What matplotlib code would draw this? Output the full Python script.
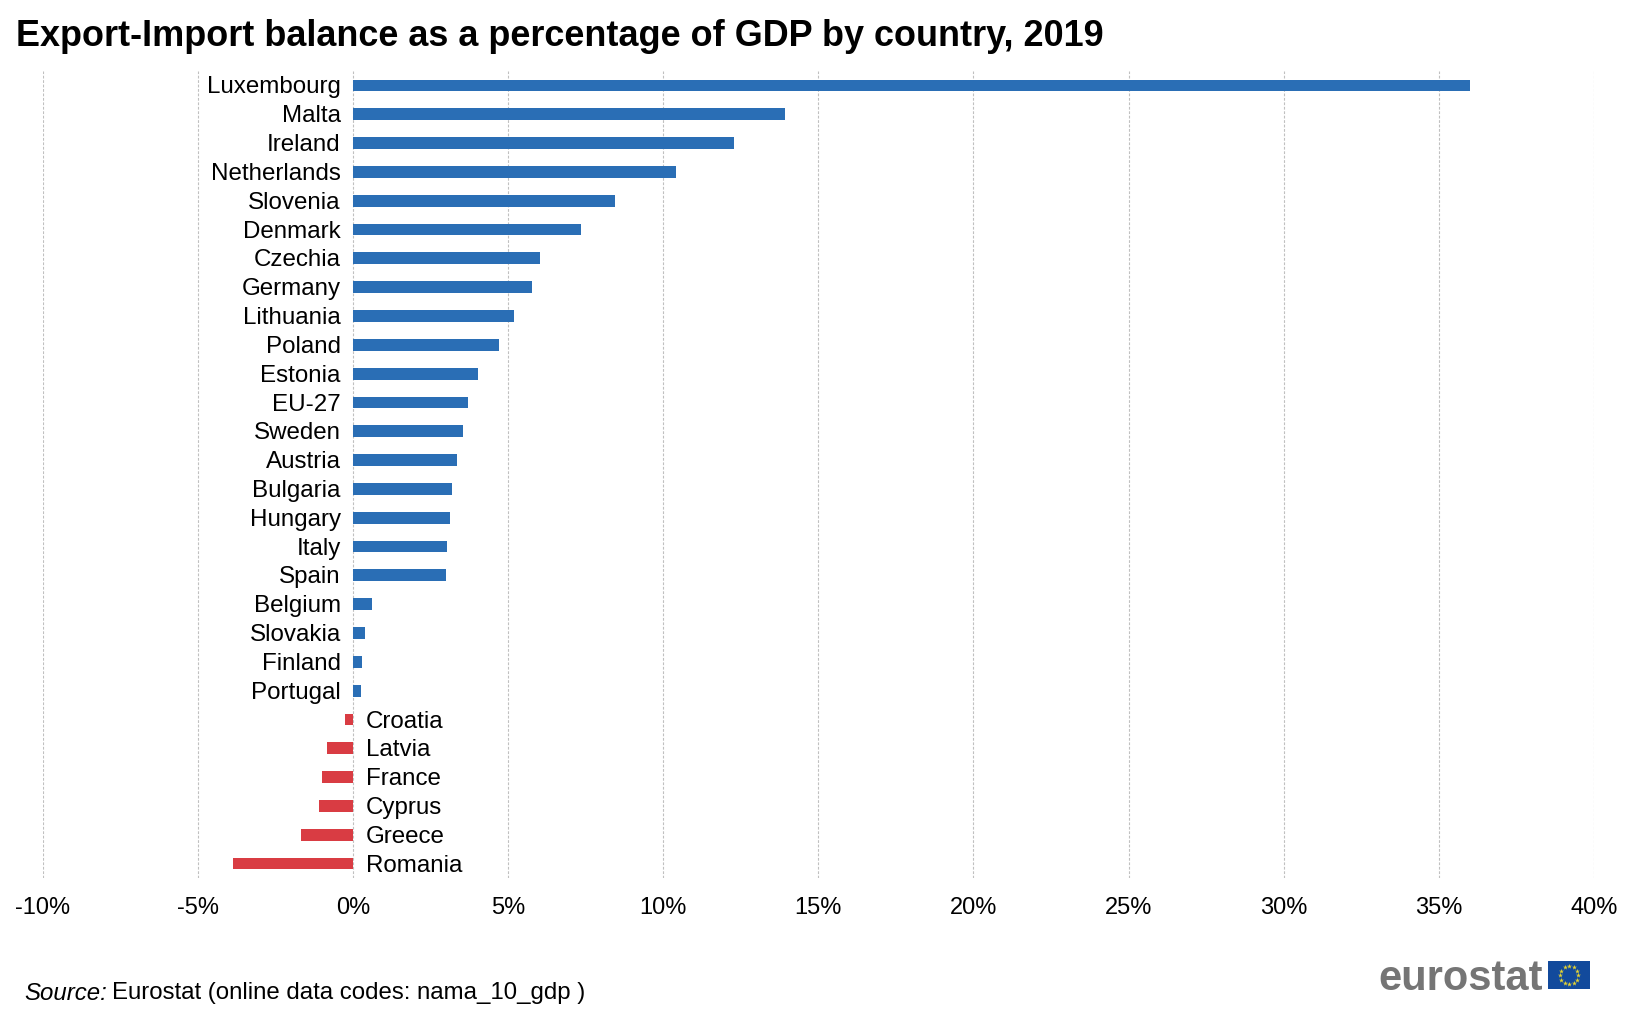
#!/usr/bin/env python3
"""Export-Import balance as a share of GDP, 2019 (Eurostat style bar chart)."""

import numpy as np
import matplotlib
matplotlib.use("Agg")
import matplotlib.pyplot as plt
from matplotlib.patches import Rectangle

countries = ["Luxembourg", "Malta", "Ireland", "Netherlands", "Slovenia", "Denmark",
             "Czechia", "Germany", "Lithuania", "Poland", "Estonia", "EU-27", "Sweden",
             "Austria", "Bulgaria", "Hungary", "Italy", "Spain", "Belgium", "Slovakia",
             "Finland", "Portugal", "Croatia", "Latvia", "France", "Cyprus", "Greece",
             "Romania"]
balance = [36.0, 13.93, 12.3, 10.4, 8.45, 7.37, 6.03, 5.77, 5.2, 4.72, 4.03, 3.72, 3.56,
           3.36, 3.2, 3.12, 3.05, 3.0, 0.63, 0.4, 0.3, 0.25, -0.25, -0.83, -1.0, -1.1,
           -1.67, -3.85]
x_ticks = [-10, -5, 0, 5, 10, 15, 20, 25, 30, 35, 40]

BLUE = "#2a6eb5"
RED = "#d93c43"
W, H = 1630, 1011

plt.rcParams["font.family"] = ["Liberation Sans", "DejaVu Sans"]

fig = plt.figure(figsize=(W / 100, H / 100), dpi=100)
ax = fig.add_axes([42.5 / W, 1 - 878 / H, (1594 - 42.5) / W, (878 - 71) / H])

colors = [BLUE if v >= 0 else RED for v in balance]
ys = np.arange(len(countries))
ax.barh(ys, balance, height=0.41, color=colors, zorder=3)
ax.set_ylim(len(countries) - 0.5, -0.5)
ax.set_xlim(-10, 40)

# labels sit on the opposite side of the bar
for y, name, v in zip(ys, countries, balance):
    if v >= 0:
        ax.annotate(name, (0, y), xytext=(-8.6, -1.5), textcoords="offset points",
                    ha="right", va="center", fontsize=17.4, zorder=4)
    else:
        ax.annotate(name, (0, y), xytext=(9.2, -1.5), textcoords="offset points",
                    ha="left", va="center", fontsize=17.4, zorder=4)

ax.set_yticks([])
ax.set_xticks(x_ticks)
ax.set_xticklabels([f"{t}%" for t in x_ticks], fontsize=17)
ax.tick_params(axis="x", length=0, pad=13.7)
ax.grid(axis="x", color="#c0c0c0", linestyle=(0, (2.5, 1.5)), linewidth=0.8, zorder=0)
for spine in ax.spines.values():
    spine.set_visible(False)

fig.text(16 / W, 1 - 36 / H, "Export-Import balance as a percentage of GDP by country, 2019",
         fontsize=25.9, fontweight="bold", ha="left", va="center")

fig.text(24 / W, 1 - 993 / H, "Source:", fontsize=17.3, style="italic",
         ha="left", va="center")
fig.text(112 / W, 1 - 993 / H, "Eurostat (online data codes: nama_10_gdp )", fontsize=17.3,
         ha="left", va="center")

# eurostat logo
fig.text(1378 / W, 1 - 990 / H, "eurostat", fontsize=30, fontweight="bold",
         color="#757575", ha="left", va="baseline")
logo = fig.add_axes([1548 / W, 1 - 989 / H, 42 / W, 28 / H])
logo.set_xlim(-21, 21)
logo.set_ylim(-14, 14)
logo.axis("off")
logo.add_patch(Rectangle((-21, -14), 42, 28, color="#124a9c"))
angles = np.deg2rad(np.arange(0, 360, 30))
logo.scatter(9 * np.cos(angles), 9 * np.sin(angles), marker="*", s=14,
             color="#e3d233", linewidths=0)

fig.savefig("out.png", dpi=100)
